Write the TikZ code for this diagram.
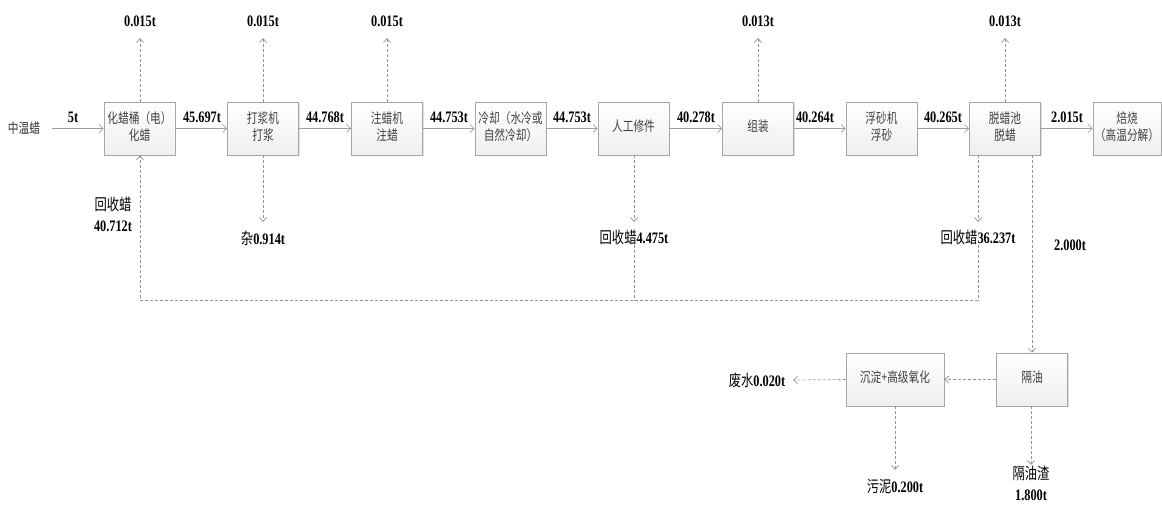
\documentclass[tikz,border=0pt]{standalone}
\usepackage{fontspec}
\setmainfont{Liberation Serif}
\newfontfamily\zh{Noto Sans CJK SC}
\newcommand{\zl}{\zh\mdseries}
\usetikzlibrary{arrows.meta,shadows}
\newcommand{\bt}[1]{\scalebox{1}[1.3]{\begin{tabular}{@{}c@{}}#1\end{tabular}}}
\newcommand{\lb}[1]{\scalebox{1}[1.3]{\bfseries\fontsize{12.3}{14}\selectfont #1}}
\newcommand{\lbt}[1]{\scalebox{1}[1.3]{\bfseries\fontsize{12.3}{16}\selectfont\begin{tabular}{@{}c@{}}#1\end{tabular}}}
\begin{document}
\begin{tikzpicture}[x=1pt,y=-1pt,
  box/.style={draw=gray!70, line width=0.6pt, top color=white, bottom color=gray!13,
    minimum width=71pt, minimum height=53pt, inner sep=0pt, text=black!75,
    font=\zh\fontsize{10.7}{12.5}\selectfont,
    drop shadow={shadow xshift=1pt, shadow yshift=-1pt, opacity=0.25, fill=gray}},
  lbl/.style={inner sep=0pt, text=black},
  flow/.style={draw=gray!75, line width=0.8pt, -{Straight Barb[length=4pt,width=8pt]}},
  dflow/.style={draw=gray!85, line width=0.7pt, dash pattern=on 3pt off 2pt, -{Straight Barb[length=4pt,width=7pt]}},
  dline/.style={draw=gray!85, line width=0.7pt, dash pattern=on 3pt off 2pt}]
\useasboundingbox (0,0) rectangle (1162,505);

% main row boxes
\node[box] (b1) at (139.5,128.5) {\bt{化蜡桶（电）\\化蜡}};
\node[box] (b2) at (263,128.5) {\bt{打浆机\\打浆}};
\node[box] (b3) at (387,128.5) {\bt{注蜡机\\注蜡}};
\node[box] (b4) at (510.5,128.5) {\bt{冷却（水冷或\\自然冷却）}};
\node[box] (b5) at (633.5,128.5) {\bt{人工修件}};
\node[box] (b6) at (758,128.5) {\bt{组装}};
\node[box] (b7) at (881.5,128.5) {\bt{浮砂机\\浮砂}};
\node[box] (b8) at (1005,128.5) {\bt{脱蜡池\\脱蜡}};
\node[box, minimum width=68pt] (b9) at (1127,128.5) {\bt{焙烧\\（高温分解）}};
% lower boxes
\node[box] (g1) at (1032,379.5) {\bt{隔油}};
\node[box, minimum width=98pt] (g2) at (895,379.5) {\bt{沉淀+高级氧化}};

% source
\node[lbl, text=black!80, font=\zh\fontsize{10.7}{12}\selectfont] (src) at (24,128) {\scalebox{1}[1.3]{中温蜡}};
\coordinate (s0) at (52,128.5);

% main flow
\draw[flow] (s0) -- (b1);
\draw[flow] (b1) -- (b2);
\draw[flow] (b2) -- (b3);
\draw[flow] (b3) -- (b4);
\draw[flow] (b4) -- (b5);
\draw[flow] (b5) -- (b6);
\draw[flow] (b6) -- (b7);
\draw[flow] (b7) -- (b8);
\draw[flow] (b8) -- (b9);

% flow labels
\node[lbl] (f0) at (73,117) {\lb{5t}};
\node[lbl] (f1) at (202,117) {\lb{45.697t}};
\node[lbl] (f2) at (325,117) {\lb{44.768t}};
\node[lbl] (f3) at (449,117) {\lb{44.753t}};
\node[lbl] (f4) at (572,117) {\lb{44.753t}};
\node[lbl] (f5) at (696,117) {\lb{40.278t}};
\node[lbl] (f6) at (815,117) {\lb{40.264t}};
\node[lbl] (f7) at (943,117) {\lb{40.265t}};
\node[lbl] (f8) at (1067,117) {\lb{2.015t}};

% top emissions
\coordinate (t1) at (140,38);
\coordinate (t2) at (263,38);
\coordinate (t3) at (387,38);
\coordinate (t6) at (758,38);
\coordinate (t8) at (1005,38);
\draw[dflow] (b1.north -| t1) -- (t1);
\draw[dflow] (b2.north -| t2) -- (t2);
\draw[dflow] (b3.north -| t3) -- (t3);
\draw[dflow] (b6.north -| t6) -- (t6);
\draw[dflow] (b8.north -| t8) -- (t8);
\node[lbl] (e1) at (140,21) {\lb{0.015t}};
\node[lbl] (e2) at (263,21) {\lb{0.015t}};
\node[lbl] (e3) at (387,21) {\lb{0.015t}};
\node[lbl] (e6) at (758,21) {\lb{0.013t}};
\node[lbl] (e8) at (1005,21) {\lb{0.013t}};

% bottom outputs of main row
\coordinate (d2) at (263,222);
\coordinate (d5) at (634,222);
\coordinate (d8) at (978,222);
\draw[dflow] (b2.south -| d2) -- (d2);
\draw[dflow] (b5.south -| d5) -- (d5);
\draw[dflow] (b8.south -| d8) -- (d8);
\node[lbl] (z2) at (263,238) {\lb{{\zl 杂}0.914t}};
\node[lbl] (z5) at (634,237) {\lb{{\zl 回收蜡}4.475t}};
\node[lbl] (z8) at (978,237) {\lb{{\zl 回收蜡}36.237t}};

% recycle loop
\coordinate (h8) at (978,300);
\coordinate (h5) at (634,300);
\coordinate (h1) at (140,300);
\draw[dline] (z5.south -| h5) -- (h5);
\draw[dflow] (z8.south -| h8) -- (h8) -- (h1) -- (b1.south -| h1);
\node[lbl] (r1) at (113,216.5) {\lbt{{\zl 回收蜡}\\40.712t}};

% wastewater branch
\draw[dflow] (b8.south -| g1) -- (g1.north);
\node[lbl] (q) at (1070,245) {\lb{2.000t}};
\draw[dflow] (g1) -- (g2);
\coordinate (w0) at (793,380);
\draw[dflow] (g2.west) -- (w0);
\node[lbl] (ww) at (757,380) {\lb{{\zl 废水}0.020t}};
\coordinate (s2) at (895,470);
\draw[dflow] (g2.south) -- (s2);
\node[lbl] (sl) at (895,487) {\lb{{\zl 污泥}0.200t}};
\coordinate (s1) at (1031,465);
\draw[dflow] (g1.south -| s1) -- (s1);
\node[lbl] (oz) at (1031,486) {\lbt{{\zl 隔油渣}\\1.800t}};
\end{tikzpicture}
\end{document}
